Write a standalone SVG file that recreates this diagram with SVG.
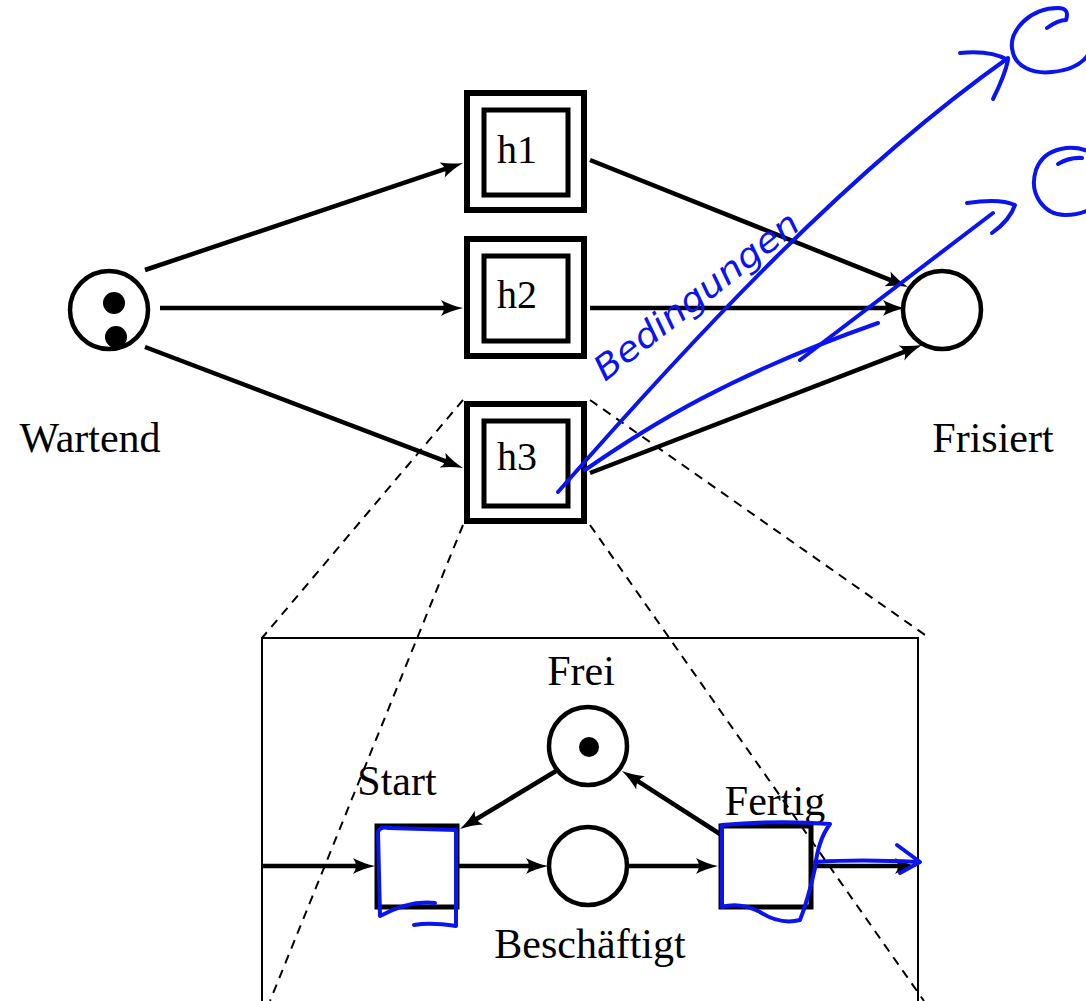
<svg xmlns="http://www.w3.org/2000/svg" width="1086" height="1001" viewBox="0 0 1086 1001">
<style>
.lbl{font-family:"Liberation Serif","Times New Roman",serif;font-size:42px;fill:#000}
.hl{font-family:"Liberation Serif","Times New Roman",serif;font-size:40px;fill:#000}
.place{fill:#fff;stroke:#000;stroke-width:4.5}
.tok{fill:#000}
.tout{fill:#fff;stroke:#000;stroke-width:6}
.tin{fill:none;stroke:#000;stroke-width:5}
.arc{stroke:#000;stroke-width:4.5;fill:none}
.dash{stroke:#000;stroke-width:2;stroke-dasharray:9,7;fill:none}
.blue{stroke:#0a14f0;stroke-width:4;fill:none;stroke-linecap:round;stroke-linejoin:round}
</style>
<defs>
<marker id="ah" markerWidth="26" markerHeight="18" refX="14" refY="8" orient="auto" markerUnits="userSpaceOnUse">
<path d="M24,8 Q11,5 2,0 Q8,8 2,16 Q11,11 24,8 Z" fill="#000"/>
</marker>
</defs>
<rect width="1086" height="1001" fill="#fff"/>

<g id="zoom-frame">
<rect x="262" y="638" width="656" height="370" fill="none" stroke="#000" stroke-width="2"/>
<line class="dash" x1="463" y1="400" x2="262" y2="638"/>
<line class="dash" x1="590" y1="400" x2="928" y2="637"/>
<line class="dash" x1="463" y1="525" x2="270" y2="1001"/>
<line class="dash" x1="590" y1="525" x2="924" y2="1001"/>
</g>

<g id="connectors">
<line class="arc" x1="145" y1="270" x2="453.5" y2="166.2" marker-end="url(#ah)"/>
<line class="arc" x1="160" y1="308" x2="453" y2="308" marker-end="url(#ah)"/>
<line class="arc" x1="145" y1="347" x2="453.7" y2="464.4" marker-end="url(#ah)"/>
<line class="arc" x1="590" y1="160" x2="898.7" y2="283.3" marker-end="url(#ah)"/>
<line class="arc" x1="590" y1="308" x2="895" y2="308" marker-end="url(#ah)"/>
<line class="arc" x1="590" y1="473" x2="912.7" y2="348.6" marker-end="url(#ah)"/>
<line class="arc" x1="262" y1="866" x2="365" y2="866" marker-end="url(#ah)"/>
<line class="arc" x1="458" y1="866" x2="538" y2="866" marker-end="url(#ah)"/>
<line class="arc" x1="628" y1="866" x2="708" y2="866" marker-end="url(#ah)"/>
<line class="arc" x1="556" y1="771" x2="468.6" y2="823.8" marker-end="url(#ah)"/>
<line class="arc" x1="720" y1="834" x2="630.4" y2="776.4" marker-end="url(#ah)"/>
<line class="arc" x1="811" y1="866" x2="907" y2="866" marker-end="url(#ah)"/>
</g>

<g id="wartend">
<circle class="place" cx="109" cy="310" r="39"/>
<circle class="tok" cx="114" cy="303" r="11"/>
<circle class="tok" cx="116" cy="337" r="11"/>
<text class="lbl" x="90" y="452" text-anchor="middle">Wartend</text>
</g>

<g id="h1">
<rect class="tout" x="467" y="93" width="117" height="117"/>
<rect class="tin" x="484" y="110" width="84" height="85"/>
<text class="hl" x="497" y="163">h1</text>
</g>
<g id="h2">
<rect class="tout" x="467" y="239" width="117" height="117"/>
<rect class="tin" x="484" y="256" width="84" height="85"/>
<text class="hl" x="497" y="308">h2</text>
</g>
<g id="h3">
<rect class="tout" x="467" y="404" width="117" height="117"/>
<rect class="tin" x="484" y="421" width="84" height="85"/>
<text class="hl" x="497" y="470">h3</text>
</g>

<g id="frisiert">
<circle class="place" cx="942" cy="310" r="39"/>
<text class="lbl" x="993" y="452" text-anchor="middle">Frisiert</text>
</g>

<g id="frei">
<circle class="place" cx="588" cy="746" r="39"/>
<circle class="tok" cx="589" cy="747" r="10"/>
<text class="lbl" x="581" y="685" text-anchor="middle">Frei</text>
</g>
<g id="start">
<rect x="377" y="826" width="80" height="81" fill="none" stroke="#000" stroke-width="5"/>
<text class="lbl" x="397" y="795" text-anchor="middle">Start</text>
</g>
<g id="beschaeftigt">
<circle class="place" cx="588" cy="866" r="39"/>
<text class="lbl" x="590" y="958" text-anchor="middle">Beschäftigt</text>
</g>
<g id="fertig">
<rect x="721" y="826" width="90" height="81" fill="none" stroke="#000" stroke-width="5"/>
<text class="lbl" x="775" y="815" text-anchor="middle">Fertig</text>
</g>

<g id="annotations">
<path class="blue" d="M558,492 C700,330 850,170 1008,58"/>
<path class="blue" d="M960,53 Q990,50 1008,60 Q1005,75 993,99"/>
<path class="blue" d="M1047,28 Q1058,20 1066,20 Q1070,8 1058,8 C1030,8 1010,30 1012,48 C1014,68 1035,74 1052,72 C1075,70 1090,60 1095,40"/>
<path class="blue" d="M585,470 C650,425 730,375 878,323"/>
<path class="blue" d="M800,360 L993,213"/>
<path class="blue" d="M967,203 Q1000,198 1015,205 Q1010,220 992,233"/>
<path class="blue" d="M1058,164 Q1070,157 1082,158"/>
<path class="blue" d="M1090,152 C1075,145 1045,145 1036,170 C1028,195 1045,215 1065,215 C1080,215 1090,210 1095,205"/>
<path class="blue" d="M389,828 Q380,826 378,832 L380,916 Q410,900 435,903"/>
<path class="blue" d="M389,828 L456,830 L456,926 Q430,922 414,925"/>
<path class="blue" d="M722,825 Q780,820 830,824 Q818,840 815,868 Q808,900 800,920 Q780,925 760,912 Q740,902 722,907 Z"/>
<path class="blue" d="M815,862 Q860,859 918,862"/>
<path class="blue" d="M897,845 L920,862 L900,873"/>
<text x="605" y="382" transform="rotate(-38 605 382)" font-family="DejaVu Sans, sans-serif" font-style="italic" font-size="34" fill="#0a14f0" textLength="250" lengthAdjust="spacingAndGlyphs">Bedingungen</text>
</g>
</svg>
